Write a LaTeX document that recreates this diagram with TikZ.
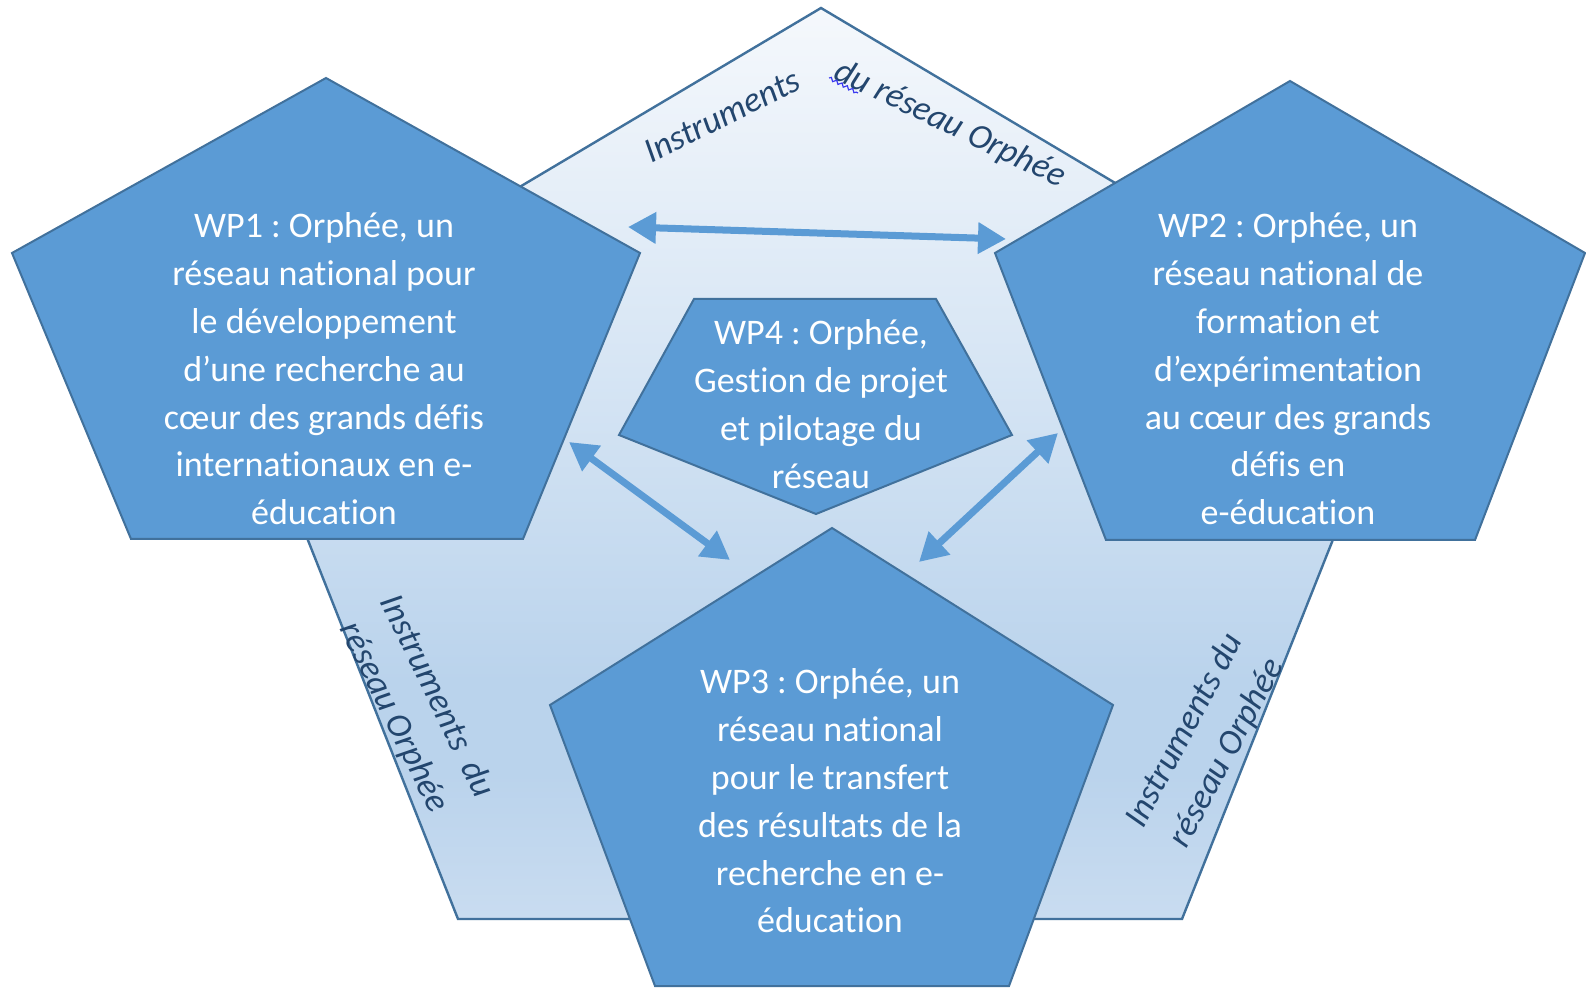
\documentclass[tikz,border=0pt]{standalone}
\usepackage{fontspec}
\setmainfont{Carlito}[RawFeature={-liga;-clig;-calt;-dlig}]
\usetikzlibrary{arrows.meta,decorations.pathmorphing}
\frenchspacing
\definecolor{wpfill}{HTML}{5B9BD5}
\definecolor{wpline}{HTML}{41719C}
\definecolor{lbl}{HTML}{23466E}
\definecolor{bgA}{HTML}{F5F8FC}
\definecolor{bgB}{HTML}{D6E5F4}
\definecolor{bgC}{HTML}{BAD3EC}
\definecolor{bgD}{HTML}{C9DCF0}
\definecolor{squig}{HTML}{3A3AF0}
\pgfdeclareverticalshading{bgshade}{100bp}{color(0bp)=(bgD); color(25bp)=(bgD); color(33bp)=(bgC); color(38bp)=(bgC); color(55bp)=(bgB); color(75bp)=(bgA); color(100bp)=(bgA)}
\begin{document}
\begin{tikzpicture}[x=0.5pt,y=-0.5pt,
  wpshape/.style={fill=wpfill,draw=wpline,line width=1pt,line join=miter},
  wptext/.style={text=white,align=center,font=\fontsize{18pt}{23.9pt}\selectfont,inner sep=0pt},
  lbltext/.style={text=lbl,align=center,font=\fontsize{17.5pt}{23.9pt}\selectfont\itshape,inner sep=0pt},
  dblarrow/.style={draw=wpfill,line width=3.5pt,{Triangle[length=14pt,width=15pt]}-{Triangle[length=14pt,width=15pt]}}]

\useasboundingbox (0,0) rectangle (1586,988);
\fill[white] (0,0) rectangle (1586,988);

% background pentagon
\coordinate (bT) at (821,8);
\coordinate (bR) at (1406,356);
\coordinate (bBR) at (1182,919);
\coordinate (bBL) at (458,919);
\coordinate (bL) at (235,356);
\shadedraw[shading=bgshade,draw=wpline,line width=1.2pt] (bT) -- (bR) -- (bBR) -- (bBL) -- (bL) -- cycle;

% WP1
\coordinate (aT) at (326,78);
\coordinate (aR) at (640,253);
\coordinate (aBR) at (523,539);
\coordinate (aBL) at (131,539);
\coordinate (aL) at (12,253);
\draw[wpshape] (aT) -- (aR) -- (aBR) -- (aBL) -- (aL) -- cycle;

% WP2
\coordinate (cT) at (1290,81);
\coordinate (cR) at (1585,253);
\coordinate (cBR) at (1475,540);
\coordinate (cBL) at (1106,540);
\coordinate (cL) at (995,253);
\draw[wpshape] (cT) -- (cR) -- (cBR) -- (cBL) -- (cL) -- cycle;

% WP3
\coordinate (dT) at (832,528);
\coordinate (dR) at (1113,705);
\coordinate (dBR) at (1009,986);
\coordinate (dBL) at (655,986);
\coordinate (dL) at (550,705);
\draw[wpshape] (dT) -- (dR) -- (dBR) -- (dBL) -- (dL) -- cycle;

% WP4
\coordinate (eTL) at (694,299);
\coordinate (eTR) at (936,299);
\coordinate (eR) at (1012,435);
\coordinate (eB) at (816,514);
\coordinate (eL) at (619,435);
\draw[wpshape] (eTL) -- (eTR) -- (eR) -- (eB) -- (eL) -- cycle;

% texts
\node[wptext] (wp1) at (324,369) {WP1 : Orphée, un\\réseau national pour\\le développement\\d’une recherche au\\cœur des grands défis\\internationaux en e-\\éducation};
\node[wptext] (wp2) at (1288,369) {WP2 : Orphée, un\\réseau national de\\formation et\\d’expérimentation\\au cœur des grands\\défis en\\e-éducation};
\node[wptext] (wp3) at (830,801) {WP3 : Orphée, un\\réseau national\\pour le transfert\\des résultats de la\\recherche en e-\\éducation};
\node[wptext] (wp4) at (821,404) {WP4 : Orphée,\\Gestion de projet\\et pilotage du\\réseau};

% arrows
\coordinate (t1) at (628,227);
\coordinate (t2) at (1006,239);
\coordinate (l1) at (569,442);
\coordinate (l2) at (730,560);
\coordinate (r1) at (1058,433);
\coordinate (r2) at (919,562);
\draw[dblarrow] (t1) -- (t2);
\draw[dblarrow] (l1) -- (l2);
\draw[dblarrow] (r1) -- (r2);

% labels
\node[lbltext,anchor=base,rotate=26.6] (lblT1) at (727,126) {Instruments};
\node[lbltext,anchor=base,rotate=-25.6] (lblT2) at (946,133) {du réseau Orphée};
\coordinate (sq1) at (829,78);
\coordinate (sq2) at (858,93);
\draw[squig,line width=0.6pt,decorate,decoration={snake,amplitude=0.8pt,segment length=3pt}] (sq1) -- (sq2);
\node[lbltext,rotate=-64] (lblL) at (415,707) {Instruments\ \ du\\réseau Orphée};
\node[lbltext,rotate=62] (lblR) at (1206,742) {Instruments du\\réseau Orphée};
\end{tikzpicture}
\end{document}
